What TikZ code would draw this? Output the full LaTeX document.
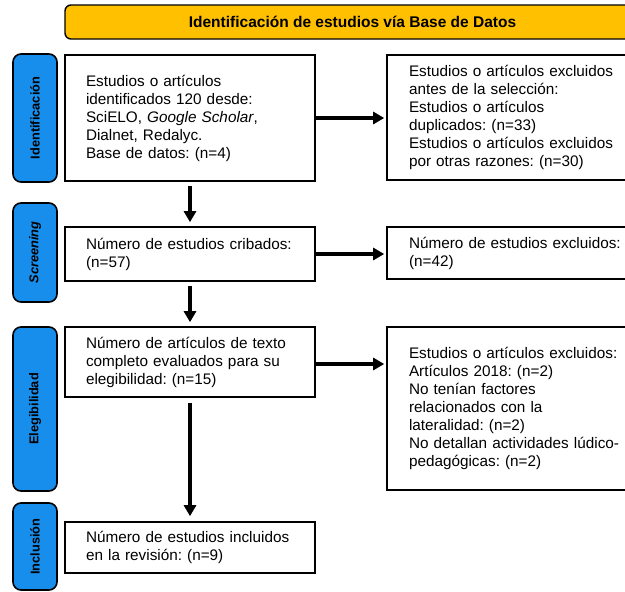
\documentclass[tikz,border=0pt]{standalone}
\usepackage{fontspec}
\setmainfont{Liberation Sans}
\usetikzlibrary{arrows.meta}

\definecolor{azuletapa}{RGB}{24,142,236}
\definecolor{oroetapa}{RGB}{255,192,0}

\tikzset{
  caja/.style={draw, line width=1.6pt, rectangle, align=left, inner xsep=21pt, inner ysep=0pt,
    font=\fontsize{15.3}{18}\selectfont, execute at begin node=\frenchspacing},
  cajader/.style={caja, inner xsep=22pt, text width=216pt, minimum width=260pt},
  etiqueta/.style={draw, line width=1.6pt, fill=azuletapa, rounded corners=8pt, rotate=90,
    minimum height=44pt, inner sep=0pt, font=\fontsize{12.8}{14}\selectfont\bfseries},
  flecha/.style={-{Triangle[length=11pt,width=12pt]}, line width=3.2pt}
}

\begin{document}
\begin{tikzpicture}[x=1pt,y=-1pt]
\useasboundingbox (0,0) rectangle (625,592);

% Title banner
\node[draw, line width=1.4pt, fill=oroetapa, rounded corners=6pt, minimum width=575pt,
  minimum height=34pt, font=\fontsize{15.5}{18}\selectfont\bfseries] (titulo) at (352.5,22)
  {Identificación de estudios vía Base de Datos};

% Stage labels
\node[etiqueta, minimum width=128pt] (lab1) at (35,118) {Identificación};
\node[etiqueta, minimum width=99pt] (lab2) at (35,252.5) {\itshape Screening};
\node[etiqueta, minimum width=164pt] (lab3) at (35,409) {Elegibilidad};
\node[etiqueta, minimum width=87pt] (lab4) at (35,546.5) {Inclusión};

% Main column
\node[caja, text width=208pt, minimum height=126pt] (ident) at (190,118)
  {Estudios o artículos\\ identificados 120 desde:\\ SciELO, \textit{Google Scholar},\\
   Dialnet, Redalyc.\\ Base de datos: (n=4)};
\node[caja, text width=208pt, minimum height=54pt] (criba) at (190,254)
  {Número de estudios cribados:\\ (n=57)};
\node[caja, text width=208pt, minimum height=70pt] (eleg) at (190,362)
  {Número de artículos de texto\\ completo evaluados para su\\ elegibilidad: (n=15)};
\node[caja, text width=208pt, minimum height=51pt] (incl) at (190,547.5)
  {Número de estudios incluidos\\ en la revisión: (n=9)};

% Excluded column
\node[cajader, minimum height=125pt] (exc1) at (517,117.5)
  {Estudios o artículos excluidos\\ antes de la selección:\\ Estudios o artículos\\
   duplicados: (n=33)\\ Estudios o artículos excluidos\\ por otras razones: (n=30)};
\node[cajader, minimum height=52pt] (exc2) at (517,253)
  {Número de estudios excluidos:\\ (n=42)};
\node[cajader, minimum height=163pt] (exc3) at (517,408.5)
  {Estudios o artículos excluidos:\\ Artículos 2018: (n=2)\\ No tenían factores\\
   relacionados con la\\ lateralidad: (n=2)\\ No detallan actividades lúdico-\\
   pedagógicas: (n=2)};

% Arrows down
\draw[flecha, shorten <=4pt, shorten >=4pt] (ident) -- (criba);
\draw[flecha, shorten <=4pt, shorten >=4pt] (criba) -- (eleg);
\draw[flecha, shorten <=5pt, shorten >=5pt] (eleg) -- (incl);

% Arrows to the right
\draw[flecha, shorten >=2pt] (ident.east) -- (ident.east -| exc1.west);
\draw[flecha, shorten >=2pt] (criba.east) -- (criba.east -| exc2.west);
\draw[flecha, shorten >=2pt] ([yshift=-2pt]eleg.east) -- ([yshift=-2pt]eleg.east -| exc3.west);

\end{tikzpicture}
\end{document}
